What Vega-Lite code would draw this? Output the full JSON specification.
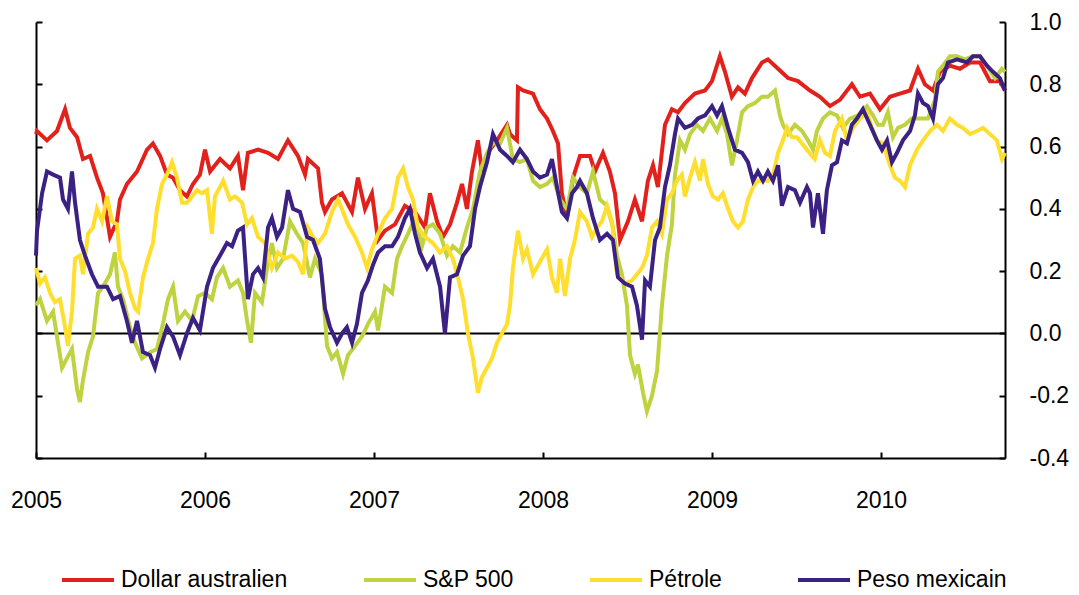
{
"$schema": "https://vega.github.io/schema/vega-lite/v6.json",
"width": 969, "height": 436,
"autosize": {"type": "none"},
"padding": {"left": 36, "top": 22, "right": 74, "bottom": 137},
"background": "white",
"config": {
  "view": {"stroke": null},
  "font": "Liberation Sans",
  "axis": {"domainColor": "black", "domainWidth": 2, "tickColor": "black", "tickWidth": 2, "labelColor": "black", "labelFont": "Liberation Sans", "labelFontSize": 23, "grid": false, "title": null}
},
"datasets": {
"aud": [
{"t":2005.000,"v":0.64},{"t":2005.006,"v":0.65},{"t":2005.065,"v":0.62},{"t":2005.124,"v":0.65},{"t":2005.172,"v":0.72},{"t":2005.201,"v":0.66},{"t":2005.243,"v":0.63},{"t":2005.278,"v":0.56},{"t":2005.320,"v":0.57},{"t":2005.361,"v":0.50},{"t":2005.396,"v":0.45},{"t":2005.438,"v":0.31},{"t":2005.479,"v":0.36},{"t":2005.497,"v":0.43},{"t":2005.538,"v":0.48},{"t":2005.598,"v":0.52},{"t":2005.657,"v":0.59},{"t":2005.692,"v":0.61},{"t":2005.734,"v":0.57},{"t":2005.775,"v":0.51},{"t":2005.811,"v":0.50},{"t":2005.852,"v":0.46},{"t":2005.893,"v":0.44},{"t":2005.929,"v":0.48},{"t":2005.970,"v":0.51},
{"t":2006.000,"v":0.59},{"t":2006.030,"v":0.52},{"t":2006.089,"v":0.56},{"t":2006.148,"v":0.53},{"t":2006.195,"v":0.57},{"t":2006.225,"v":0.46},{"t":2006.254,"v":0.58},{"t":2006.314,"v":0.59},{"t":2006.373,"v":0.58},{"t":2006.432,"v":0.56},{"t":2006.491,"v":0.62},{"t":2006.550,"v":0.57},{"t":2006.592,"v":0.51},{"t":2006.609,"v":0.56},{"t":2006.669,"v":0.53},{"t":2006.692,"v":0.42},{"t":2006.710,"v":0.39},{"t":2006.751,"v":0.43},{"t":2006.811,"v":0.45},{"t":2006.870,"v":0.39},{"t":2006.905,"v":0.50},{"t":2006.947,"v":0.40},{"t":2006.988,"v":0.45},
{"t":2007.024,"v":0.30},{"t":2007.065,"v":0.33},{"t":2007.124,"v":0.35},{"t":2007.183,"v":0.41},{"t":2007.243,"v":0.39},{"t":2007.302,"v":0.34},{"t":2007.331,"v":0.45},{"t":2007.373,"v":0.36},{"t":2007.408,"v":0.31},{"t":2007.450,"v":0.35},{"t":2007.491,"v":0.42},{"t":2007.521,"v":0.48},{"t":2007.550,"v":0.40},{"t":2007.580,"v":0.52},{"t":2007.615,"v":0.62},{"t":2007.639,"v":0.52},{"t":2007.686,"v":0.59},{"t":2007.728,"v":0.62},{"t":2007.787,"v":0.67},{"t":2007.805,"v":0.64},{"t":2007.846,"v":0.62},{"t":2007.852,"v":0.79},{"t":2007.882,"v":0.78},{"t":2007.941,"v":0.77},{"t":2007.982,"v":0.72},
{"t":2008.024,"v":0.69},{"t":2008.059,"v":0.65},{"t":2008.089,"v":0.61},{"t":2008.112,"v":0.45},{"t":2008.142,"v":0.37},{"t":2008.178,"v":0.50},{"t":2008.219,"v":0.57},{"t":2008.278,"v":0.57},{"t":2008.308,"v":0.52},{"t":2008.355,"v":0.58},{"t":2008.396,"v":0.52},{"t":2008.426,"v":0.45},{"t":2008.456,"v":0.30},{"t":2008.503,"v":0.36},{"t":2008.544,"v":0.43},{"t":2008.586,"v":0.36},{"t":2008.621,"v":0.49},{"t":2008.651,"v":0.54},{"t":2008.680,"v":0.47},{"t":2008.722,"v":0.67},{"t":2008.763,"v":0.72},{"t":2008.799,"v":0.71},{"t":2008.840,"v":0.74},{"t":2008.899,"v":0.77},{"t":2008.959,"v":0.78},
{"t":2009.000,"v":0.81},{"t":2009.047,"v":0.89},{"t":2009.077,"v":0.84},{"t":2009.118,"v":0.76},{"t":2009.154,"v":0.79},{"t":2009.195,"v":0.77},{"t":2009.237,"v":0.82},{"t":2009.296,"v":0.87},{"t":2009.331,"v":0.88},{"t":2009.391,"v":0.85},{"t":2009.450,"v":0.82},{"t":2009.509,"v":0.81},{"t":2009.580,"v":0.78},{"t":2009.639,"v":0.76},{"t":2009.698,"v":0.73},{"t":2009.757,"v":0.75},{"t":2009.828,"v":0.80},{"t":2009.876,"v":0.76},{"t":2009.935,"v":0.77},{"t":2009.994,"v":0.72},
{"t":2010.053,"v":0.76},{"t":2010.112,"v":0.77},{"t":2010.172,"v":0.78},{"t":2010.219,"v":0.85},{"t":2010.260,"v":0.80},{"t":2010.308,"v":0.78},{"t":2010.349,"v":0.84},{"t":2010.408,"v":0.86},{"t":2010.467,"v":0.85},{"t":2010.527,"v":0.87},{"t":2010.586,"v":0.87},{"t":2010.645,"v":0.81},{"t":2010.704,"v":0.81},{"t":2010.734,"v":0.78}
],
"spx": [
{"t":2005.000,"v":0.09},{"t":2005.024,"v":0.11},{"t":2005.065,"v":0.04},{"t":2005.101,"v":0.07},{"t":2005.130,"v":-0.03},{"t":2005.154,"v":-0.11},{"t":2005.183,"v":-0.08},{"t":2005.213,"v":-0.05},{"t":2005.243,"v":-0.18},{"t":2005.260,"v":-0.22},{"t":2005.278,"v":-0.15},{"t":2005.308,"v":-0.06},{"t":2005.337,"v":-0.01},{"t":2005.367,"v":0.13},{"t":2005.396,"v":0.15},{"t":2005.438,"v":0.19},{"t":2005.467,"v":0.26},{"t":2005.485,"v":0.15},{"t":2005.515,"v":0.11},{"t":2005.556,"v":0.02},{"t":2005.586,"v":-0.03},{"t":2005.627,"v":-0.08},{"t":2005.675,"v":-0.06},{"t":2005.716,"v":-0.05},{"t":2005.751,"v":0.03},{"t":2005.781,"v":0.11},{"t":2005.811,"v":0.15},{"t":2005.840,"v":0.04},{"t":2005.882,"v":0.07},{"t":2005.923,"v":0.04},{"t":2005.959,"v":0.12},
{"t":2006.000,"v":0.13},{"t":2006.041,"v":0.11},{"t":2006.071,"v":0.18},{"t":2006.107,"v":0.21},{"t":2006.148,"v":0.15},{"t":2006.195,"v":0.17},{"t":2006.225,"v":0.13},{"t":2006.249,"v":0.04},{"t":2006.272,"v":-0.03},{"t":2006.296,"v":0.13},{"t":2006.337,"v":0.10},{"t":2006.367,"v":0.21},{"t":2006.396,"v":0.29},{"t":2006.426,"v":0.21},{"t":2006.462,"v":0.24},{"t":2006.503,"v":0.36},{"t":2006.544,"v":0.32},{"t":2006.580,"v":0.29},{"t":2006.621,"v":0.18},{"t":2006.651,"v":0.24},{"t":2006.692,"v":0.19},{"t":2006.722,"v":-0.04},{"t":2006.751,"v":-0.08},{"t":2006.781,"v":-0.06},{"t":2006.817,"v":-0.13},{"t":2006.846,"v":-0.07},{"t":2006.888,"v":-0.04},{"t":2006.929,"v":-0.01},{"t":2006.964,"v":0.03},
{"t":2007.006,"v":0.07},{"t":2007.024,"v":0.01},{"t":2007.065,"v":0.15},{"t":2007.107,"v":0.13},{"t":2007.136,"v":0.24},{"t":2007.166,"v":0.28},{"t":2007.201,"v":0.32},{"t":2007.243,"v":0.37},{"t":2007.284,"v":0.28},{"t":2007.314,"v":0.34},{"t":2007.349,"v":0.35},{"t":2007.391,"v":0.32},{"t":2007.432,"v":0.25},{"t":2007.467,"v":0.28},{"t":2007.509,"v":0.26},{"t":2007.550,"v":0.34},{"t":2007.586,"v":0.40},{"t":2007.627,"v":0.52},{"t":2007.669,"v":0.58},{"t":2007.704,"v":0.61},{"t":2007.746,"v":0.61},{"t":2007.787,"v":0.66},{"t":2007.822,"v":0.56},{"t":2007.864,"v":0.55},{"t":2007.905,"v":0.56},{"t":2007.941,"v":0.49},{"t":2007.982,"v":0.47},
{"t":2008.024,"v":0.48},{"t":2008.059,"v":0.50},{"t":2008.101,"v":0.43},{"t":2008.142,"v":0.40},{"t":2008.178,"v":0.50},{"t":2008.219,"v":0.47},{"t":2008.260,"v":0.45},{"t":2008.296,"v":0.52},{"t":2008.337,"v":0.43},{"t":2008.379,"v":0.41},{"t":2008.414,"v":0.34},{"t":2008.438,"v":0.25},{"t":2008.467,"v":0.19},{"t":2008.497,"v":0.09},{"t":2008.515,"v":-0.07},{"t":2008.544,"v":-0.13},{"t":2008.562,"v":-0.10},{"t":2008.592,"v":-0.19},{"t":2008.615,"v":-0.25},{"t":2008.645,"v":-0.20},{"t":2008.675,"v":-0.12},{"t":2008.704,"v":0.09},{"t":2008.734,"v":0.25},{"t":2008.763,"v":0.35},{"t":2008.781,"v":0.51},{"t":2008.811,"v":0.62},{"t":2008.840,"v":0.59},{"t":2008.870,"v":0.64},{"t":2008.911,"v":0.67},{"t":2008.947,"v":0.65},{"t":2008.988,"v":0.69},
{"t":2009.030,"v":0.65},{"t":2009.059,"v":0.69},{"t":2009.089,"v":0.64},{"t":2009.118,"v":0.54},{"t":2009.148,"v":0.62},{"t":2009.178,"v":0.71},{"t":2009.213,"v":0.73},{"t":2009.254,"v":0.74},{"t":2009.296,"v":0.76},{"t":2009.331,"v":0.76},{"t":2009.373,"v":0.78},{"t":2009.402,"v":0.70},{"t":2009.420,"v":0.67},{"t":2009.450,"v":0.64},{"t":2009.491,"v":0.67},{"t":2009.533,"v":0.65},{"t":2009.568,"v":0.62},{"t":2009.598,"v":0.59},{"t":2009.621,"v":0.65},{"t":2009.657,"v":0.69},{"t":2009.698,"v":0.71},{"t":2009.740,"v":0.70},{"t":2009.775,"v":0.66},{"t":2009.817,"v":0.69},{"t":2009.864,"v":0.70},{"t":2009.917,"v":0.73},{"t":2009.953,"v":0.70},{"t":2009.982,"v":0.67},
{"t":2010.012,"v":0.67},{"t":2010.041,"v":0.71},{"t":2010.071,"v":0.63},{"t":2010.101,"v":0.66},{"t":2010.142,"v":0.67},{"t":2010.183,"v":0.69},{"t":2010.231,"v":0.69},{"t":2010.278,"v":0.69},{"t":2010.320,"v":0.75},{"t":2010.337,"v":0.84},{"t":2010.367,"v":0.86},{"t":2010.408,"v":0.89},{"t":2010.450,"v":0.89},{"t":2010.497,"v":0.88},{"t":2010.544,"v":0.89},{"t":2010.586,"v":0.89},{"t":2010.627,"v":0.86},{"t":2010.675,"v":0.82},{"t":2010.716,"v":0.85},{"t":2010.734,"v":0.84}
],
"oil": [
{"t":2005.000,"v":0.21},{"t":2005.024,"v":0.16},{"t":2005.053,"v":0.18},{"t":2005.083,"v":0.13},{"t":2005.112,"v":0.10},{"t":2005.142,"v":0.11},{"t":2005.172,"v":0.02},{"t":2005.189,"v":-0.04},{"t":2005.213,"v":0.07},{"t":2005.231,"v":0.24},{"t":2005.260,"v":0.25},{"t":2005.278,"v":0.19},{"t":2005.308,"v":0.32},{"t":2005.337,"v":0.34},{"t":2005.361,"v":0.40},{"t":2005.391,"v":0.36},{"t":2005.420,"v":0.44},{"t":2005.450,"v":0.36},{"t":2005.479,"v":0.35},{"t":2005.497,"v":0.24},{"t":2005.527,"v":0.20},{"t":2005.556,"v":0.13},{"t":2005.586,"v":0.08},{"t":2005.604,"v":0.07},{"t":2005.633,"v":0.18},{"t":2005.663,"v":0.24},{"t":2005.692,"v":0.29},{"t":2005.716,"v":0.40},{"t":2005.746,"v":0.48},{"t":2005.775,"v":0.51},{"t":2005.805,"v":0.55},{"t":2005.834,"v":0.50},{"t":2005.864,"v":0.42},{"t":2005.893,"v":0.42},{"t":2005.923,"v":0.44},{"t":2005.953,"v":0.46},{"t":2005.982,"v":0.45},
{"t":2006.012,"v":0.46},{"t":2006.041,"v":0.32},{"t":2006.059,"v":0.44},{"t":2006.089,"v":0.47},{"t":2006.107,"v":0.49},{"t":2006.148,"v":0.43},{"t":2006.178,"v":0.44},{"t":2006.219,"v":0.42},{"t":2006.249,"v":0.35},{"t":2006.278,"v":0.37},{"t":2006.314,"v":0.31},{"t":2006.355,"v":0.29},{"t":2006.396,"v":0.21},{"t":2006.432,"v":0.26},{"t":2006.473,"v":0.24},{"t":2006.515,"v":0.25},{"t":2006.550,"v":0.23},{"t":2006.580,"v":0.19},{"t":2006.609,"v":0.34},{"t":2006.639,"v":0.31},{"t":2006.669,"v":0.29},{"t":2006.710,"v":0.32},{"t":2006.751,"v":0.39},{"t":2006.787,"v":0.43},{"t":2006.817,"v":0.39},{"t":2006.846,"v":0.35},{"t":2006.888,"v":0.31},{"t":2006.929,"v":0.26},{"t":2006.959,"v":0.21},{"t":2006.988,"v":0.27},
{"t":2007.024,"v":0.32},{"t":2007.065,"v":0.37},{"t":2007.107,"v":0.40},{"t":2007.142,"v":0.50},{"t":2007.172,"v":0.53},{"t":2007.201,"v":0.47},{"t":2007.231,"v":0.43},{"t":2007.260,"v":0.34},{"t":2007.302,"v":0.31},{"t":2007.349,"v":0.29},{"t":2007.391,"v":0.26},{"t":2007.432,"v":0.28},{"t":2007.467,"v":0.24},{"t":2007.497,"v":0.18},{"t":2007.527,"v":0.11},{"t":2007.556,"v":0.00},{"t":2007.586,"v":-0.08},{"t":2007.615,"v":-0.19},{"t":2007.639,"v":-0.14},{"t":2007.669,"v":-0.11},{"t":2007.698,"v":-0.08},{"t":2007.728,"v":-0.03},{"t":2007.757,"v":0.00},{"t":2007.787,"v":0.03},{"t":2007.805,"v":0.09},{"t":2007.822,"v":0.21},{"t":2007.852,"v":0.33},{"t":2007.882,"v":0.24},{"t":2007.905,"v":0.27},{"t":2007.941,"v":0.19},{"t":2007.982,"v":0.23},
{"t":2008.024,"v":0.27},{"t":2008.053,"v":0.18},{"t":2008.083,"v":0.13},{"t":2008.101,"v":0.24},{"t":2008.130,"v":0.12},{"t":2008.160,"v":0.24},{"t":2008.189,"v":0.30},{"t":2008.219,"v":0.39},{"t":2008.260,"v":0.36},{"t":2008.290,"v":0.31},{"t":2008.320,"v":0.34},{"t":2008.349,"v":0.36},{"t":2008.379,"v":0.41},{"t":2008.408,"v":0.36},{"t":2008.438,"v":0.19},{"t":2008.485,"v":0.16},{"t":2008.527,"v":0.17},{"t":2008.556,"v":0.19},{"t":2008.586,"v":0.21},{"t":2008.615,"v":0.25},{"t":2008.645,"v":0.34},{"t":2008.675,"v":0.36},{"t":2008.704,"v":0.32},{"t":2008.734,"v":0.43},{"t":2008.763,"v":0.45},{"t":2008.793,"v":0.49},{"t":2008.822,"v":0.51},{"t":2008.840,"v":0.44},{"t":2008.870,"v":0.50},{"t":2008.899,"v":0.55},{"t":2008.929,"v":0.49},{"t":2008.947,"v":0.56},{"t":2008.976,"v":0.48},
{"t":2009.006,"v":0.44},{"t":2009.036,"v":0.43},{"t":2009.065,"v":0.45},{"t":2009.095,"v":0.40},{"t":2009.124,"v":0.36},{"t":2009.154,"v":0.34},{"t":2009.183,"v":0.36},{"t":2009.213,"v":0.43},{"t":2009.243,"v":0.47},{"t":2009.272,"v":0.49},{"t":2009.302,"v":0.49},{"t":2009.331,"v":0.49},{"t":2009.361,"v":0.51},{"t":2009.391,"v":0.58},{"t":2009.420,"v":0.62},{"t":2009.444,"v":0.66},{"t":2009.473,"v":0.63},{"t":2009.503,"v":0.63},{"t":2009.533,"v":0.61},{"t":2009.562,"v":0.59},{"t":2009.592,"v":0.57},{"t":2009.609,"v":0.56},{"t":2009.639,"v":0.62},{"t":2009.669,"v":0.58},{"t":2009.698,"v":0.57},{"t":2009.728,"v":0.65},{"t":2009.769,"v":0.69},{"t":2009.799,"v":0.62},{"t":2009.834,"v":0.66},{"t":2009.876,"v":0.69},{"t":2009.917,"v":0.71},{"t":2009.947,"v":0.66},{"t":2009.976,"v":0.62},
{"t":2010.012,"v":0.61},{"t":2010.053,"v":0.54},{"t":2010.083,"v":0.50},{"t":2010.112,"v":0.49},{"t":2010.142,"v":0.47},{"t":2010.172,"v":0.54},{"t":2010.213,"v":0.59},{"t":2010.249,"v":0.62},{"t":2010.290,"v":0.65},{"t":2010.331,"v":0.67},{"t":2010.367,"v":0.65},{"t":2010.408,"v":0.69},{"t":2010.450,"v":0.67},{"t":2010.485,"v":0.66},{"t":2010.527,"v":0.64},{"t":2010.568,"v":0.65},{"t":2010.604,"v":0.66},{"t":2010.645,"v":0.64},{"t":2010.686,"v":0.62},{"t":2010.716,"v":0.56},{"t":2010.734,"v":0.58}
],
"mxn": [
{"t":2005.000,"v":0.25},{"t":2005.006,"v":0.33},{"t":2005.036,"v":0.45},{"t":2005.065,"v":0.52},{"t":2005.101,"v":0.51},{"t":2005.142,"v":0.50},{"t":2005.160,"v":0.43},{"t":2005.189,"v":0.40},{"t":2005.213,"v":0.52},{"t":2005.231,"v":0.42},{"t":2005.260,"v":0.30},{"t":2005.290,"v":0.25},{"t":2005.331,"v":0.19},{"t":2005.367,"v":0.15},{"t":2005.420,"v":0.15},{"t":2005.456,"v":0.11},{"t":2005.497,"v":0.12},{"t":2005.538,"v":0.04},{"t":2005.568,"v":-0.03},{"t":2005.598,"v":0.04},{"t":2005.633,"v":-0.06},{"t":2005.675,"v":-0.07},{"t":2005.704,"v":-0.11},{"t":2005.734,"v":-0.05},{"t":2005.775,"v":0.02},{"t":2005.811,"v":-0.01},{"t":2005.852,"v":-0.07},{"t":2005.893,"v":0.00},{"t":2005.929,"v":0.05},{"t":2005.970,"v":0.01},
{"t":2006.012,"v":0.15},{"t":2006.047,"v":0.21},{"t":2006.089,"v":0.25},{"t":2006.130,"v":0.29},{"t":2006.160,"v":0.28},{"t":2006.195,"v":0.33},{"t":2006.225,"v":0.34},{"t":2006.254,"v":0.11},{"t":2006.284,"v":0.19},{"t":2006.314,"v":0.21},{"t":2006.343,"v":0.18},{"t":2006.373,"v":0.34},{"t":2006.396,"v":0.37},{"t":2006.426,"v":0.31},{"t":2006.456,"v":0.34},{"t":2006.491,"v":0.46},{"t":2006.521,"v":0.40},{"t":2006.562,"v":0.39},{"t":2006.604,"v":0.31},{"t":2006.639,"v":0.30},{"t":2006.680,"v":0.24},{"t":2006.710,"v":0.08},{"t":2006.740,"v":0.02},{"t":2006.781,"v":-0.03},{"t":2006.811,"v":0.00},{"t":2006.840,"v":0.02},{"t":2006.870,"v":-0.03},{"t":2006.899,"v":0.03},{"t":2006.929,"v":0.13},{"t":2006.964,"v":0.17},{"t":2006.994,"v":0.22},
{"t":2007.024,"v":0.26},{"t":2007.065,"v":0.28},{"t":2007.107,"v":0.28},{"t":2007.142,"v":0.31},{"t":2007.183,"v":0.37},{"t":2007.213,"v":0.40},{"t":2007.243,"v":0.32},{"t":2007.272,"v":0.26},{"t":2007.314,"v":0.21},{"t":2007.349,"v":0.24},{"t":2007.391,"v":0.15},{"t":2007.420,"v":0.00},{"t":2007.450,"v":0.18},{"t":2007.491,"v":0.19},{"t":2007.527,"v":0.25},{"t":2007.568,"v":0.28},{"t":2007.598,"v":0.40},{"t":2007.627,"v":0.47},{"t":2007.669,"v":0.55},{"t":2007.704,"v":0.64},{"t":2007.746,"v":0.59},{"t":2007.787,"v":0.57},{"t":2007.822,"v":0.55},{"t":2007.864,"v":0.59},{"t":2007.905,"v":0.56},{"t":2007.941,"v":0.52},{"t":2007.982,"v":0.50},
{"t":2008.024,"v":0.51},{"t":2008.053,"v":0.56},{"t":2008.083,"v":0.47},{"t":2008.112,"v":0.39},{"t":2008.142,"v":0.37},{"t":2008.172,"v":0.45},{"t":2008.201,"v":0.47},{"t":2008.219,"v":0.49},{"t":2008.260,"v":0.45},{"t":2008.296,"v":0.37},{"t":2008.337,"v":0.30},{"t":2008.379,"v":0.32},{"t":2008.414,"v":0.30},{"t":2008.444,"v":0.18},{"t":2008.485,"v":0.16},{"t":2008.527,"v":0.15},{"t":2008.556,"v":0.09},{"t":2008.586,"v":-0.02},{"t":2008.604,"v":0.17},{"t":2008.633,"v":0.15},{"t":2008.663,"v":0.30},{"t":2008.692,"v":0.34},{"t":2008.722,"v":0.47},{"t":2008.751,"v":0.54},{"t":2008.781,"v":0.64},{"t":2008.799,"v":0.69},{"t":2008.840,"v":0.66},{"t":2008.882,"v":0.67},{"t":2008.917,"v":0.69},{"t":2008.959,"v":0.70},
{"t":2009.000,"v":0.73},{"t":2009.030,"v":0.70},{"t":2009.059,"v":0.73},{"t":2009.095,"v":0.66},{"t":2009.136,"v":0.59},{"t":2009.178,"v":0.58},{"t":2009.213,"v":0.55},{"t":2009.243,"v":0.49},{"t":2009.272,"v":0.52},{"t":2009.302,"v":0.49},{"t":2009.331,"v":0.52},{"t":2009.361,"v":0.49},{"t":2009.391,"v":0.54},{"t":2009.414,"v":0.41},{"t":2009.450,"v":0.47},{"t":2009.491,"v":0.46},{"t":2009.521,"v":0.42},{"t":2009.562,"v":0.47},{"t":2009.580,"v":0.45},{"t":2009.598,"v":0.34},{"t":2009.627,"v":0.45},{"t":2009.657,"v":0.32},{"t":2009.680,"v":0.46},{"t":2009.710,"v":0.54},{"t":2009.740,"v":0.55},{"t":2009.769,"v":0.62},{"t":2009.799,"v":0.61},{"t":2009.828,"v":0.67},{"t":2009.858,"v":0.69},{"t":2009.893,"v":0.72},{"t":2009.935,"v":0.67},{"t":2009.976,"v":0.62},
{"t":2010.006,"v":0.59},{"t":2010.036,"v":0.62},{"t":2010.065,"v":0.55},{"t":2010.095,"v":0.58},{"t":2010.130,"v":0.62},{"t":2010.172,"v":0.65},{"t":2010.201,"v":0.70},{"t":2010.219,"v":0.77},{"t":2010.249,"v":0.74},{"t":2010.278,"v":0.73},{"t":2010.308,"v":0.69},{"t":2010.337,"v":0.80},{"t":2010.367,"v":0.82},{"t":2010.396,"v":0.87},{"t":2010.450,"v":0.88},{"t":2010.509,"v":0.87},{"t":2010.544,"v":0.89},{"t":2010.586,"v":0.89},{"t":2010.627,"v":0.86},{"t":2010.663,"v":0.84},{"t":2010.704,"v":0.82},{"t":2010.734,"v":0.78}
]
},
"resolve": {"axis": {"y": "independent"}},
"layer": [
  {
    "data": {"values": [{"v": 0}]},
    "mark": {"type": "rule", "color": "black", "strokeWidth": 2},
    "encoding": {
      "y": {"field": "v", "type": "quantitative",
        "scale": {"domain": [-0.4, 1.0], "nice": false, "zero": false},
        "axis": {"orient": "left", "values": [-0.4, -0.2, 0, 0.2, 0.4, 0.6, 0.8, 1.0], "labels": false, "tickSize": -6, "title": null}}
    }
  },
  {
    "data": {"name": "aud"},
    "mark": {"type": "line", "strokeWidth": 4},
    "encoding": {
      "x": {"field": "t", "type": "quantitative", "scale": {"domain": [2005, 2010.734], "nice": false, "zero": false},
        "axis": {"orient": "bottom", "values": [2005, 2006, 2007, 2008, 2009, 2010], "format": "d", "tickSize": -6, "labelPadding": 37, "labelFlush": false, "labelOverlap": false, "labelBound": false, "title": null}},
      "y": {"field": "v", "type": "quantitative",
        "axis": {"orient": "right", "values": [-0.4, -0.2, 0, 0.2, 0.4, 0.6, 0.8, 1.0], "tickSize": -6, "labelPadding": 30, "labelExpr": "datum.value < 0 ? '-' + format(-datum.value, '.1f') : format(datum.value, '.1f')", "title": null}},
      "color": {"datum": "Dollar australien", "type": "nominal",
        "scale": {"domain": ["Dollar australien", "S&P 500", "Pétrole", "Peso mexicain"], "range": ["#E2211C", "#BFD23F", "#FFDE2E", "#3B2183"]},
        "legend": {"orient": "none", "legendX": 24, "legendY": 530, "direction": "horizontal", "title": null, "symbolType": "stroke", "symbolSize": 2704, "symbolStrokeWidth": 4, "labelFontSize": 23, "labelFont": "Liberation Sans", "labelColor": "black", "labelOffset": 5, "columnPadding": 68, "labelLimit": 400}}
    }
  },
  {
    "data": {"name": "spx"},
    "mark": {"type": "line", "strokeWidth": 4},
    "encoding": {
      "x": {"field": "t", "type": "quantitative"},
      "y": {"field": "v", "type": "quantitative", "axis": null},
      "color": {"datum": "S&P 500", "type": "nominal"}
    }
  },
  {
    "data": {"name": "oil"},
    "mark": {"type": "line", "strokeWidth": 4},
    "encoding": {
      "x": {"field": "t", "type": "quantitative"},
      "y": {"field": "v", "type": "quantitative", "axis": null},
      "color": {"datum": "Pétrole", "type": "nominal"}
    }
  },
  {
    "data": {"name": "mxn"},
    "mark": {"type": "line", "strokeWidth": 4},
    "encoding": {
      "x": {"field": "t", "type": "quantitative"},
      "y": {"field": "v", "type": "quantitative", "axis": null},
      "color": {"datum": "Peso mexicain", "type": "nominal"}
    }
  }
]
}
